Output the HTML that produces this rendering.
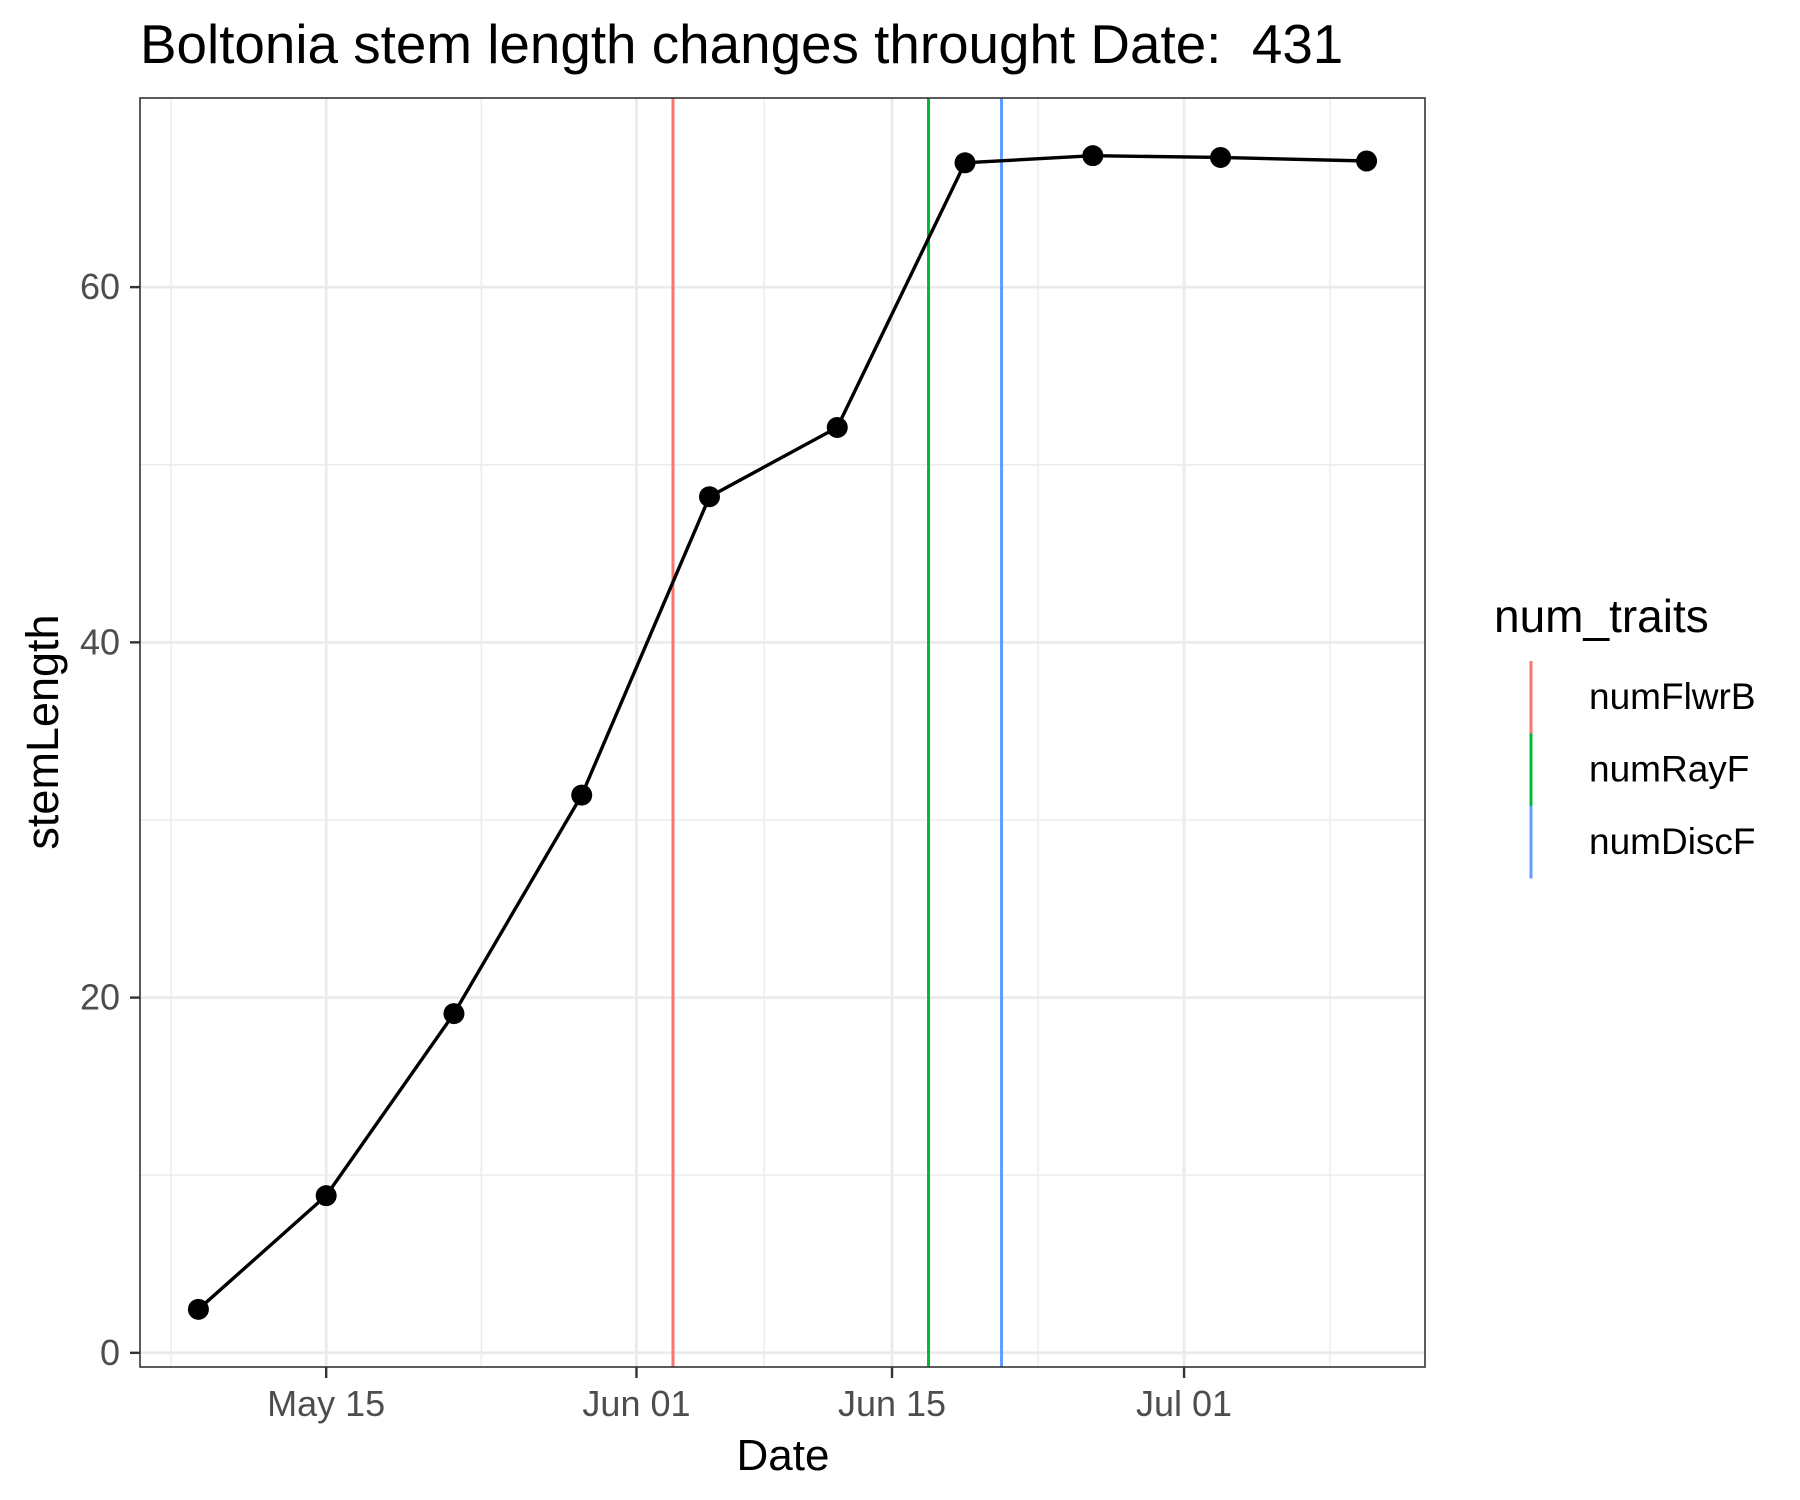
<!DOCTYPE html>
<html><head><meta charset="utf-8"><style>
body{margin:0;background:#fff}
svg{display:block;font-family:"Liberation Sans",sans-serif}
</style></head><body>
<svg id="chart" width="1800" height="1500">
<text x="140" y="63" font-size="54.8" fill="#000" style="white-space:pre">Boltonia stem length changes throught Date:  431</text>
<rect x="140" y="98" width="1285" height="1269" fill="#fff"/>
<g id="grid"></g>
<g id="vlines"></g>
<g id="series"></g>
<rect x="140" y="98" width="1285" height="1269" fill="none" stroke="#333" stroke-width="1.6"/>
<g id="axes"></g>
<text x="783" y="1470" font-size="44" text-anchor="middle" fill="#000">Date</text>
<text transform="translate(58,732) rotate(-90)" font-size="45" text-anchor="middle" fill="#000">stemLength</text>
<g id="legend">
<text x="1494" y="632" font-size="46" fill="#000">num_traits</text>
</g>
</svg>
<script>
const dates=["2024-05-08","2024-05-15","2024-05-22","2024-05-29","2024-06-05","2024-06-12","2024-06-19","2024-06-26","2024-07-03","2024-07-11"];
const stemLength=[2.45,8.85,19.1,31.4,48.2,52.1,67.0,67.4,67.3,67.1];
const traitNames=["numFlwrB","numRayF","numDiscF"];
const traitDates=["2024-06-03","2024-06-17","2024-06-21"];
const traitColors=["#F8766D","#00BA38","#619CFF"];
const xTickDates=["2024-05-15","2024-06-01","2024-06-15","2024-07-01"];
const xTickLabels=["May 15","Jun 01","Jun 15","Jul 01"];
const yTicks=[0,20,40,60];
const yMinor=[10,30,50];

const NS="http://www.w3.org/2000/svg";
const day=t=>Date.parse(t+"T00:00:00Z")/86400000;
const PX0=140,PX1=1425,PY0=98,PY1=1367;
const dvals=dates.map(day);
const dmin=Math.min(...dvals),dmax=Math.max(...dvals),dr=dmax-dmin;
const xlo=dmin-dr*0.05,xhi=dmax+dr*0.05;
const ymn=Math.min(...stemLength),ymx=Math.max(...stemLength),yr=ymx-ymn;
const ylo=ymn-yr*0.05,yhi=ymx+yr*0.05;
const Xd=v=>PX0+(v-xlo)/(xhi-xlo)*(PX1-PX0);
const X=d=>Xd(day(d));
const Y=v=>PY1-(v-ylo)/(yhi-ylo)*(PY1-PY0);
function mk(tag,attrs,parent){const e=document.createElementNS(NS,tag);for(const k in attrs)e.setAttribute(k,attrs[k]);parent.appendChild(e);return e;}
const grid=document.getElementById('grid'),axes=document.getElementById('axes');
const td=xTickDates.map(day);const minorD=[];
for(let i=0;i<td.length-1;i++)minorD.push((td[i]+td[i+1])/2);
minorD.unshift(td[0]-(td[1]-td[0])/2);minorD.push(td[td.length-1]+(td[td.length-1]-td[td.length-2])/2);
minorD.filter(v=>v>xlo&&v<xhi).forEach(v=>{const l=mk('line',{x1:Xd(v),x2:Xd(v),y1:PY0,y2:PY1,stroke:'#ebebeb','stroke-width':1.4},grid);

});
yMinor.forEach(v=>{const l=mk('line',{x1:PX0,x2:PX1,y1:Y(v),y2:Y(v),stroke:'#ebebeb','stroke-width':1.4},grid);

});
xTickDates.forEach((d,i)=>{const l=mk('line',{x1:X(d),x2:X(d),y1:PY0,y2:PY1,stroke:'#ebebeb','stroke-width':2.8},grid);


const t=mk('line',{x1:X(d),x2:X(d),y1:PY1,y2:PY1+11,stroke:'#333','stroke-width':2.4},axes);


const tx=mk('text',{x:X(d),y:1416,'font-size':36,'text-anchor':'middle',fill:'#4d4d4d'},axes);tx.textContent=xTickLabels[i];

});
yTicks.forEach(v=>{const l=mk('line',{x1:PX0,x2:PX1,y1:Y(v),y2:Y(v),stroke:'#ebebeb','stroke-width':2.8},grid);


const t=mk('line',{x1:PX0-10,x2:PX0,y1:Y(v),y2:Y(v),stroke:'#333','stroke-width':2.4},axes);


const tx=mk('text',{x:PX0-20,y:Y(v)+12,'font-size':36,'text-anchor':'end',fill:'#4d4d4d'},axes);tx.textContent=v;

});
const vl=document.getElementById('vlines');
traitDates.forEach((d,i)=>{const l=mk('line',{x1:X(d),x2:X(d),y1:PY0,y2:PY1,stroke:traitColors[i],'stroke-width':3},vl);

});
const s=document.getElementById('series');
const p=mk('polyline',{points:dates.map((d,i)=>X(d)+','+Y(stemLength[i])).join(' '),fill:'none',stroke:'#000','stroke-width':3.4},s);


dates.forEach((d,i)=>{const c=mk('circle',{cx:X(d),cy:Y(stemLength[i]),r:10.5,fill:'#000'},s);

});
const lg=document.getElementById('legend');
traitNames.forEach((n,i)=>{const y0=661+i*72.5;
const l=mk('line',{x1:1531,x2:1531,y1:y0,y2:y0+72.5,stroke:traitColors[i],'stroke-width':3},lg);


const t=mk('text',{x:1589,y:y0+48,'font-size':37,fill:'#000'},lg);t.textContent=n;

});
</script>
</body></html>
